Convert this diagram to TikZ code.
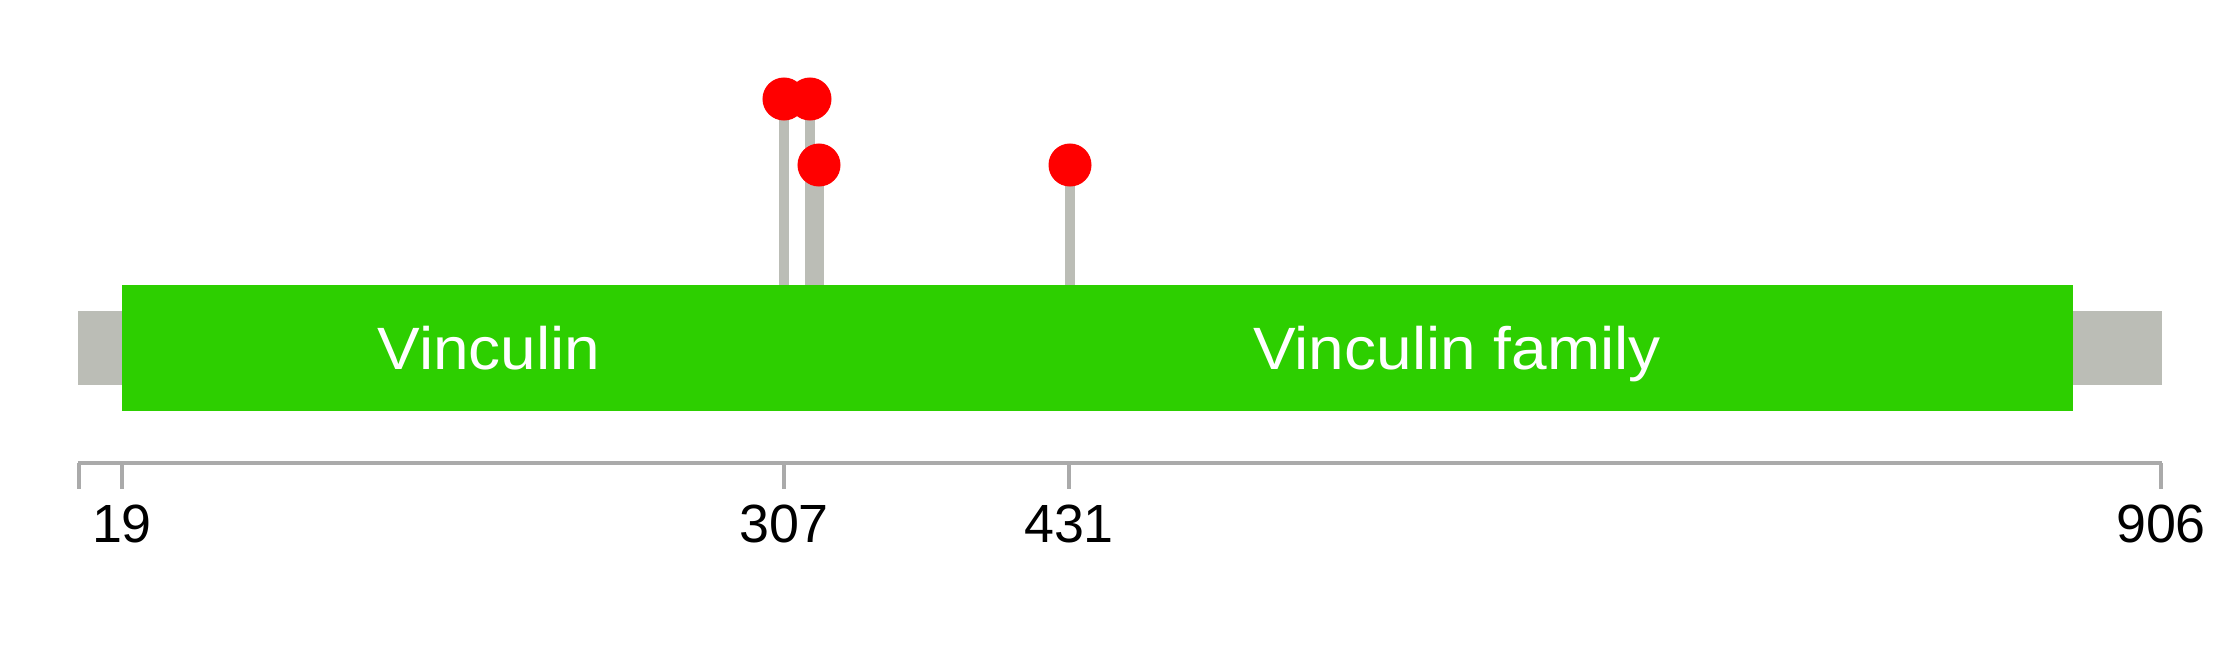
\documentclass[tikz,border=0pt]{standalone}
\usepackage{fontspec}
\setmainfont{Liberation Sans}
\newfontfamily\domfont[FakeStretch=1.07]{Liberation Sans}
\usetikzlibrary{positioning}
\definecolor{chainGray}{RGB}{187,189,182}
\definecolor{domGreen}{RGB}{45,207,0}
\definecolor{axisGray}{RGB}{170,170,170}
\definecolor{siteRed}{RGB}{255,0,0}

\begin{document}
\begin{tikzpicture}[x=0.01cm, y=-0.01cm,
    stem/.style={chainGray, line width=3.1pt},
    site/.style={circle, fill=siteRed, inner sep=0pt, minimum size=0.43cm},
    domlabel/.style={text=white, inner sep=0pt, anchor=base,
                     font=\domfont\fontsize{17}{20}\selectfont},
    axisline/.style={axisGray, line width=1.4pt},
    ticklabel/.style={inner sep=0pt, anchor=base,
                      font=\fontsize{15.3}{18}\selectfont}]
  \useasboundingbox (0,0) rectangle (2239,645);
  % stems from the chain up to the sites
  \foreach \name/\px/\py in {a/784/99, b/810/99, c/819/165, d/1070/165}{
    \coordinate (base\name) at (\px,285);
    \coordinate (tip\name) at (\px,\py);
    \draw[stem] (base\name) -- (tip\name);
  }
  % protein chain
  \fill[chainGray] (78,311) rectangle (2162,385);
  % domains
  \fill[domGreen] (122,285) rectangle (857,411);
  \fill[domGreen] (841,285) rectangle (2073,411);
  \node[domlabel] (dom1) at (489,369) {Vinculin};
  \node[domlabel] (dom2) at (1457,369) {Vinculin family};
  % modification sites
  \foreach \name in {a,b,c,d}{
    \node[site] (s\name) at (tip\name) {};
  }
  % position axis
  \coordinate (axL) at (78,463);
  \coordinate (axR) at (2162,463);
  \draw[axisline] (axL) -- (axR);
  \foreach \px in {79,122,784,1069,2161}{
    \coordinate (tk\px) at (\px,463);
    \draw[axisline] (tk\px) -- ++(0,26);
  }
  \foreach \px/\lab in {122/19, 784/307, 1069/431, 2161/906}{
    \node[ticklabel] (t\lab) at (\px,542) {\lab};
  }
\end{tikzpicture}
\end{document}
